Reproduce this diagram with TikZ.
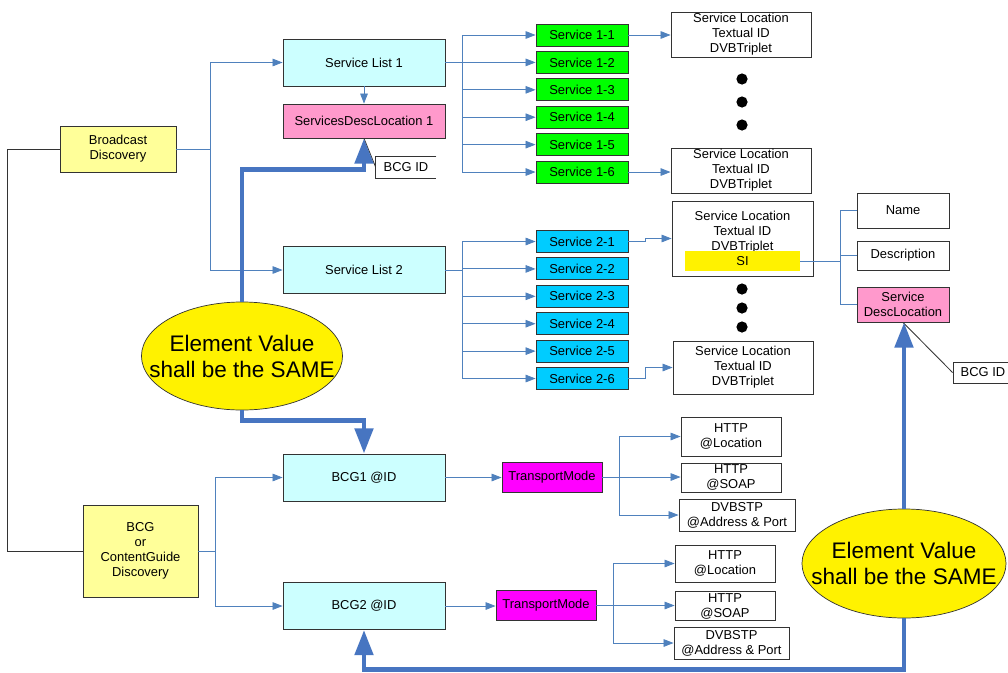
\documentclass[tikz,border=0pt]{standalone}
\usepackage{fontspec}
\setmainfont{Liberation Sans}
\usepackage{tikz}
\usetikzlibrary{arrows.meta,shapes.geometric}
\definecolor{listcyan}{HTML}{CCFFFF}
\definecolor{discyellow}{HTML}{FFFF99}
\definecolor{descpink}{HTML}{FF99CC}
\definecolor{svcgreen}{HTML}{00FF00}
\definecolor{svcblue}{HTML}{00CCFF}
\definecolor{modemag}{HTML}{FF00FF}
\definecolor{linkblue}{RGB}{79,129,189}
\definecolor{fatblue}{RGB}{71,117,193}

\begin{document}
\begin{tikzpicture}[x=0.025cm,y=-0.025cm,node distance=0.685cm,
  font=\fontsize{9.2}{10.7}\selectfont,
  box/.style={draw=black!80,line width=0.6pt,inner sep=0.5pt,align=center},
  disc node/.style={box,fill=discyellow},
  list node/.style={box,fill=listcyan,minimum width=4.05cm,minimum height=1.175cm},
  desc node/.style={box,fill=descpink},
  svc one/.style={box,fill=svcgreen,minimum width=2.3cm,minimum height=0.55cm},
  svc two/.style={box,fill=svcblue,minimum width=2.3cm,minimum height=0.55cm},
  loc node/.style={box,fill=white,minimum width=3.5cm,minimum height=1.125cm},
  leaf node/.style={box,fill=white,minimum width=2.3cm},
  mode node/.style={box,fill=modemag,minimum width=2.5cm,minimum height=0.75cm},
  tag node/.style={box,fill=white,minimum width=1.5cm,minimum height=0.525cm},
  si node/.style={fill=yellow,minimum width=2.875cm,minimum height=0.5cm,inner sep=0pt},
  same node/.style={ellipse,draw=black!80,line width=0.5pt,fill=yellow,minimum width=5.025cm,minimum height=2.7cm,inner sep=0pt},
  same text/.style={align=center,font=\fontsize{16}{18.5}\selectfont},
  link/.style={color=linkblue,line width=0.6pt,-{Triangle[length=0.25cm,width=0.19cm]}},
  plain link/.style={color=linkblue,line width=0.6pt},
  fat link/.style={color=fatblue,line width=3.5pt,-{Triangle[length=0.63cm,width=0.45cm]}},
  fork/.style={to path={-- ++(#1,0) |- (\tikztotarget)}}]
  \useasboundingbox (0,0) rectangle (1008,672);

  \node[disc node,minimum width=2.9cm,minimum height=1.15cm] (bd) at (118,149) {Broadcast\\Discovery};
  \node[disc node,minimum width=2.875cm,minimum height=2.3cm] (bcgd) at (140.5,551) {BCG\\or\\ContentGuide\\Discovery};

  \node[list node] (sl1) at (364,62.5) {Service List 1};
  \node[desc node,minimum width=4.05cm,minimum height=0.85cm] (sdl1) at (364,121) {ServicesDescLocation 1};
  \node[list node] (sl2) at (364,270) {Service List 2};
  \node[list node] (bcg1) at (364,477.5) {BCG1 @ID};
  \node[list node] (bcg2) at (364,606) {BCG2 @ID};
  \node[tag node,draw=none] (bcgid1) at (406,167) {BCG ID};

  \node[svc one] (s11) at (582,35) {Service 1-1};
  \node[svc one] (s12) [below of=s11] {Service 1-2};
  \node[svc one] (s13) [below of=s12] {Service 1-3};
  \node[svc one] (s14) [below of=s13] {Service 1-4};
  \node[svc one] (s15) [below of=s14] {Service 1-5};
  \node[svc one] (s16) [below of=s15] {Service 1-6};

  \node[svc two] (s21) at (582,241.5) {Service 2-1};
  \node[svc two] (s22) [below of=s21] {Service 2-2};
  \node[svc two] (s23) [below of=s22] {Service 2-3};
  \node[svc two] (s24) [below of=s23] {Service 2-4};
  \node[svc two] (s25) [below of=s24] {Service 2-5};
  \node[svc two] (s26) [below of=s25] {Service 2-6};

  \node[loc node] (loc1) at (741,34.5) {Service Location\\Textual ID\\DVBTriplet};
  \node[loc node] (loc2) at (741,170.5) {Service Location\\Textual ID\\DVBTriplet};
  \node[loc node,minimum width=3.525cm,minimum height=1.875cm] (loc3) at (742.5,238.5) {Service Location\\Textual ID\\DVBTriplet\\~};
  \node[si node] (si) at (742.5,261) {SI};
  \node[loc node,minimum height=1.325cm] (loc4) at (743,367.5) {Service Location\\Textual ID\\DVBTriplet};

  \fill (742,79) circle[radius=0.14cm] (742,102) circle[radius=0.14cm] (742,125) circle[radius=0.14cm];
  \fill (742,289) circle[radius=0.14cm] (742,308) circle[radius=0.14cm] (742,327) circle[radius=0.14cm];

  \node[leaf node,minimum height=0.875cm] (nm) at (903,210.5) {Name};
  \node[leaf node,minimum height=0.725cm] (descr) at (903,255.5) {Description};
  \node[desc node,minimum width=2.3cm,minimum height=0.875cm] (sdl2) at (903,304.5) {Service\\DescLocation};
  \node[tag node] (bcgid2) at (983,372.5) {BCG ID};

  \node[mode node] (tm1) at (552,477) {TransportMode};
  \node[mode node] (tm2) at (546,605.5) {TransportMode};
  \node[leaf node,minimum width=2.5cm,minimum height=0.975cm] (h1a) at (731,436.5) {HTTP\\@Location};
  \node[leaf node,minimum width=2.5cm,minimum height=0.725cm] (h1b) at (731,477.5) {HTTP\\@SOAP};
  \node[leaf node,minimum width=2.9cm,minimum height=0.8cm] (h1c) at (737,515) {DVBSTP\\@Address \& Port};
  \node[leaf node,minimum width=2.5cm,minimum height=0.925cm] (h2a) at (725,563.5) {HTTP\\@Location};
  \node[leaf node,minimum width=2.5cm,minimum height=0.725cm] (h2b) at (725,606) {HTTP\\@SOAP};
  \node[leaf node,minimum width=2.875cm,minimum height=0.8cm] (h2c) at (731.5,643) {DVBSTP\\@Address \& Port};

  \node[same node,label={[same text]center:Element Value\\shall be the SAME}] (el1) at (242,356) {};
  \node[same node,minimum width=5.1cm,minimum height=2.725cm,label={[same text]center:Element Value\\shall be the SAME}] (el2) at (904,563.5) {};

  \path[link]
    (bd.east) edge[fork=34] (sl1.west)
    (bd.east) edge[fork=34] (sl2.west)
    (sl1.south) edge (sdl1.north)
    (sl1.east) edge[fork=17] (s11.west)
    (sl1.east) edge[fork=17] (s12.west)
    (sl1.east) edge[fork=17] (s13.west)
    (sl1.east) edge[fork=17] (s14.west)
    (sl1.east) edge[fork=17] (s15.west)
    (sl1.east) edge[fork=17] (s16.west)
    (sl2.east) edge[fork=17] (s21.west)
    (sl2.east) edge[fork=17] (s22.west)
    (sl2.east) edge[fork=17] (s23.west)
    (sl2.east) edge[fork=17] (s24.west)
    (sl2.east) edge[fork=17] (s25.west)
    (sl2.east) edge[fork=17] (s26.west)
    (s11.east) edge (s11.east -| loc1.west)
    (s16.east) edge (s16.east -| loc2.west)
    (s21.east) edge[fork=17] (loc3.west)
    (s26.east) edge[fork=17] (loc4.west)
    (bcgd.east) edge[fork=17] (bcg1.west)
    (bcgd.east) edge[fork=17] (bcg2.west)
    (bcg1.east) edge (bcg1.east -| tm1.west)
    (bcg2.east) edge (bcg2.east -| tm2.west)
    (tm1.east) edge[fork=17] (h1a.west)
    (tm1.east) edge (tm1.east -| h1b.west)
    (tm1.east) edge[fork=17] (h1c.west)
    (tm2.east) edge[fork=17] (h2a.west)
    (tm2.east) edge (tm2.east -| h2b.west)
    (tm2.east) edge[fork=17] (h2c.west);

  \path[plain link]
    (si.east) edge[fork=40] (nm.west)
    (si.east) edge[fork=40] (descr.west)
    (si.east) edge[fork=40] (sdl2.west);

  \path[draw=black!80,line width=0.6pt]
    (bd.west) edge[fork=-52] (bcgd.west)
    (sdl1.south) edge (bcgid1.west)
    (sdl2.south) edge (bcgid2.west);
  \draw[black!80,line width=0.6pt] (bcgid1.north east) -- (bcgid1.north west) -- (bcgid1.south west) -- (bcgid1.south east);

  \draw[fat link] (el1.north) -- ++(0,-132) -| (sdl1.south);
  \draw[fat link] (el1.south) -- ++(0,10) -| (bcg1.north);
  \draw[fat link] (el2.north) -- (el2.north |- sdl2.south);
  \draw[fat link] (el2.south) -- ++(0,51) -| (bcg2.south);
\end{tikzpicture}
\end{document}
